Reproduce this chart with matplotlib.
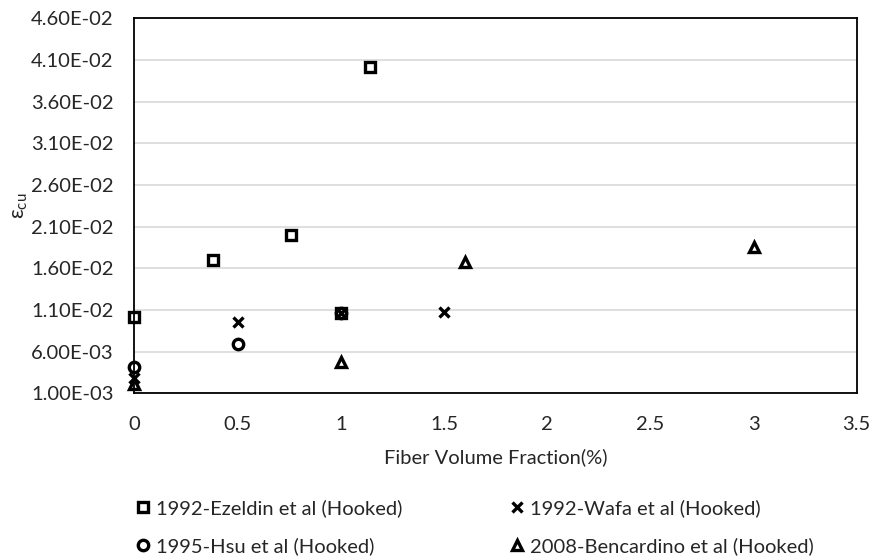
import numpy as np
import matplotlib
matplotlib.use('Agg')
from matplotlib import pyplot as plt

plt.rcParams['font.family'] = ['Lato', 'DejaVu Sans']
plt.rcParams['mathtext.fontset'] = 'custom'
plt.rcParams['mathtext.rm'] = 'Lato'
plt.rcParams['mathtext.it'] = 'Lato'

# fiber volume fraction (%) and ultimate strain for each study
ezeldin_vf = [0, 0.38, 0.76, 1.14, 1.0]
ezeldin_eps = [0.0102, 0.0170, 0.0200, 0.0402, 0.0106]

wafa_vf = [0, 0.5, 1.0, 1.5]
wafa_eps = [0.0028, 0.0095, 0.0106, 0.0107]

hsu_vf = [0, 0.5, 1.0]
hsu_eps = [0.0041, 0.0069, 0.0106]

bencardino_vf = [0, 1.0, 1.6, 3.0]
bencardino_eps = [0.0021, 0.0048, 0.0167, 0.0185]

x_ticks = [0, 0.5, 1, 1.5, 2, 2.5, 3, 3.5]
x_tick_labels = ['0', '0.5', '1', '1.5', '2', '2.5', '3', '3.5']
y_ticks = np.arange(0.001, 0.0461, 0.005)

FS = 14.5
TXT = '#262626'

fig = plt.figure(figsize=(8.76, 5.6), dpi=100)
ax = fig.add_axes([0.1535, 0.2977, 0.8245, 0.6696])

style = dict(linestyle='none', markerfacecolor='none', markeredgecolor='black',
             markeredgewidth=2.4, markersize=7.5, clip_on=False, zorder=3)
h1, = ax.plot(ezeldin_vf, ezeldin_eps, marker='s',
              label='1992-Ezeldin et al (Hooked)', **style)
h2, = ax.plot(wafa_vf, wafa_eps, marker='x',
              label='1992-Wafa et al (Hooked)', **style)
h3, = ax.plot(hsu_vf, hsu_eps, marker='o',
              label='1995-Hsu et al (Hooked)', **style)
h4, = ax.plot(bencardino_vf, bencardino_eps, marker='^',
              label='2008-Bencardino et al (Hooked)', **style)

ax.set_xlim(0, 3.5)
ax.set_ylim(0.001, 0.046)
ax.set_xticks(x_ticks)
ax.set_xticklabels(x_tick_labels)
ax.set_yticks(y_ticks)
ax.set_yticklabels(['%.2E' % v for v in y_ticks])
ax.tick_params(length=0, labelsize=FS, colors=TXT)
ax.tick_params(axis='y', pad=15)
ax.tick_params(axis='x', pad=16)

ax.grid(axis='y', color='#d9d9d9', linewidth=1.2)
ax.set_axisbelow(True)
for s in ax.spines.values():
    s.set_color('black')
    s.set_linewidth(1.3)

ax.set_xlabel('Fiber Volume Fraction(%)', fontsize=FS, color=TXT, labelpad=11)
ax.set_ylabel(r'$\mathrm{\varepsilon_{cu}}$', fontsize=FS + 1, color=TXT, labelpad=1)

# two columns, row by row
order = [h1, h3, h2, h4]
fig.legend(order, [h.get_label() for h in order],
           ncol=2, frameon=False, fontsize=FS, loc='lower left',
           bbox_to_anchor=(130 / 876, 0.0), borderaxespad=0.1, borderpad=0.15,
           columnspacing=5.3, handletextpad=0.25, handlelength=0.8,
           labelspacing=1.0, labelcolor=TXT)

fig.savefig('out.png', dpi=100)
